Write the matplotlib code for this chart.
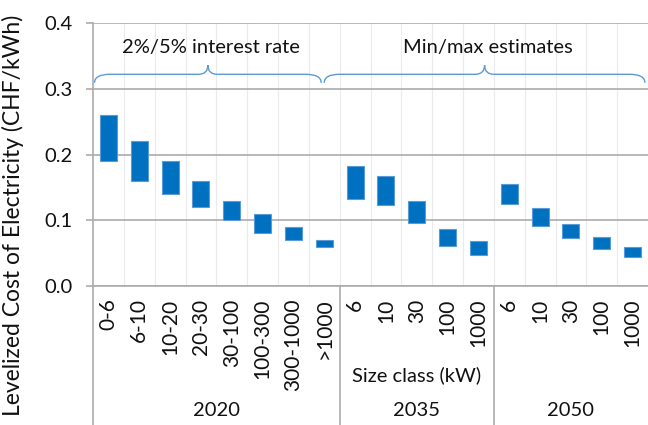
import matplotlib.pyplot as plt
from matplotlib.path import Path
from matplotlib.patches import PathPatch
from matplotlib.transforms import blended_transform_factory

plt.rcParams['font.family'] = ['Lato', 'DejaVu Sans']

size_labels = ['0-6', '6-10', '10-20', '20-30', '30-100', '100-300', '300-1000', '>1000',
               '6', '10', '30', '100', '1000',
               '6', '10', '30', '100', '1000']
lcoe_low = [0.19, 0.16, 0.14, 0.12, 0.10, 0.08, 0.07, 0.06,
            0.132, 0.123, 0.096, 0.061, 0.047,
            0.125, 0.091, 0.073, 0.056, 0.044]
lcoe_high = [0.26, 0.22, 0.19, 0.16, 0.13, 0.11, 0.09, 0.07,
             0.182, 0.167, 0.130, 0.087, 0.069,
             0.155, 0.118, 0.094, 0.074, 0.059]
years = ['2020', '2035', '2050']
group_sizes = [8, 5, 5]
brace_labels = ['2%/5% interest rate', 'Min/max estimates']

BAR = '#0070C0'
BRACE = '#5B9BD5'
GRID = '#ABABAB'
TXT = '#111111'


def brace(ax, x0, x1, y, drop, tip, dx, dt, label, text_y):
    xm = (x0 + x1) / 2
    verts = [(x0, y - drop), (x0, y), (x0 + dx, y),
             (xm - dt, y),
             (xm, y), (xm, y + tip),
             (xm, y), (xm + dt, y),
             (x1 - dx, y),
             (x1, y), (x1, y - drop)]
    codes = [Path.MOVETO, Path.CURVE3, Path.CURVE3,
             Path.LINETO,
             Path.CURVE3, Path.CURVE3,
             Path.CURVE3, Path.CURVE3,
             Path.LINETO,
             Path.CURVE3, Path.CURVE3]
    ax.add_patch(PathPatch(Path(verts, codes), fill=False, edgecolor=BRACE, lw=1.0))
    ax.text(xm + 0.1, text_y, label, ha='center', va='center', fontsize=14.5, color=TXT)


fig = plt.figure(figsize=(6.48, 4.25), dpi=100)
ax = fig.add_axes([93 / 648, 1 - 286 / 425, 555 / 648, 263 / 425])

x = list(range(len(size_labels)))
heights = [h - l for l, h in zip(lcoe_low, lcoe_high)]
ax.bar(x, heights, bottom=lcoe_low, width=0.55, color=BAR, edgecolor='#5B9BD5', linewidth=0.8, zorder=3)

ax.set_xlim(-0.5, len(size_labels) - 0.5)
ax.set_ylim(0, 0.4)
ax.set_yticks([0, 0.1, 0.2, 0.3, 0.4])
ax.set_yticklabels(['0.0', '0.1', '0.2', '0.3', '0.4'], fontsize=14.5, color=TXT)
ax.yaxis.grid(True, color=GRID, lw=1.2, zorder=0)
for k in range(1, len(size_labels)):
    ax.axvline(k - 0.5, color='#EBEBEB', lw=0.8, zorder=0)

for s in ['top', 'right']:
    ax.spines[s].set_visible(False)
ax.spines['left'].set_color(GRID)
ax.spines['bottom'].set_color(GRID)
ax.spines['left'].set_linewidth(1.2)
ax.spines['bottom'].set_linewidth(1.2)
ax.tick_params(axis='y', length=5, color=GRID, width=1.2, pad=10)
ax.tick_params(axis='x', length=0, pad=9)
ax.set_xticks(x)
ax.set_xticklabels(size_labels, rotation=90, fontsize=15, color=TXT)

ax.set_ylabel('Levelized Cost of Electricity (CHF/kWh)', fontsize=16.5, color=TXT)
ax.yaxis.set_label_coords(-0.125, 0.27)

# multi-level category axis
trans = blended_transform_factory(ax.transData, fig.transFigure)
edges = [-0.5]
for n in group_sizes:
    edges.append(edges[-1] + n)
for e in edges[:-1]:
    ax.plot([e, e], [1 - 286 / 425, 0], transform=trans, color=GRID, lw=1.2, clip_on=False)
for yr, a, b in zip(years, edges[:-1], edges[1:]):
    ax.text((a + b) / 2, 1 - 410 / 425, yr, transform=trans, ha='center', va='center',
            fontsize=14.5, color=TXT)
ax.text((edges[1] + edges[2]) / 2, 1 - 375 / 425, 'Size class (kW)', transform=trans,
        ha='center', va='center', fontsize=14.5, color=TXT)

brace(ax, -0.45, 6.9, 0.322, 0.013, 0.014, 0.5, 0.3, brace_labels[0], 0.363)
brace(ax, 7.0, 17.4, 0.322, 0.013, 0.014, 0.5, 0.3, brace_labels[1], 0.363)

fig.savefig('out.png', dpi=100)
